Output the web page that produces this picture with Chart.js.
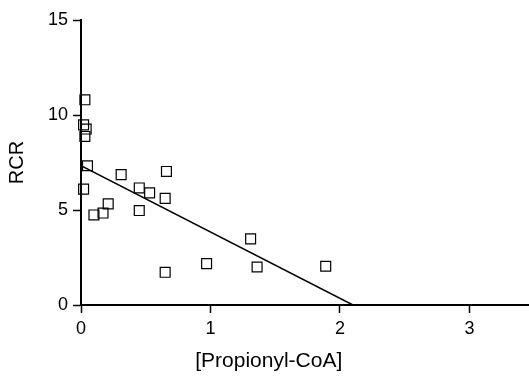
<!DOCTYPE html>
<html>
<head>
<meta charset="utf-8">
<script src="https://cdn.jsdelivr.net/npm/chart.js@4.4.1/dist/chart.umd.min.js"></script>
<style>
  body { margin: 0; background: #fff; }
</style>
</head>
<body>
<canvas id="rcrChart" width="529" height="376"></canvas>
<script>
// measured points: [Propionyl-CoA] vs RCR
const propionylCoA = [0.03, 0.02, 0.04, 0.03, 0.05, 0.02, 0.31, 0.66, 0.45, 0.53, 0.65, 0.21, 0.17, 0.10, 0.45, 1.31, 0.97, 1.36, 1.89, 0.65];
const rcr          = [10.8, 9.48, 9.26, 8.87, 7.33, 6.10, 6.86, 7.03, 6.16, 5.90, 5.61, 5.32, 4.84, 4.74, 4.97, 3.48, 2.18, 2.00, 2.04, 1.72];

// regression line end points
const fitX = [0, 2.10];
const fitY = [7.33, 0];

const xRange = [0, 3.46];
const yRange = [0, 15];

const FONT = '"Liberation Sans", Arial, sans-serif';

// x title sits left of the plot centre in the original
const xTitlePlugin = {
    id: 'xTitle',
    afterDraw(chart) {
        const { ctx, scales: { x } } = chart;
        ctx.save();
        ctx.font = '21px ' + FONT;
        ctx.fillStyle = '#000';
        ctx.textAlign = 'center';
        ctx.textBaseline = 'middle';
        ctx.fillText('[Propionyl-CoA]', x.getPixelForValue(1.45), 361);
        ctx.restore();
    }
};

const ctx = document.getElementById('rcrChart').getContext('2d');
new Chart(ctx, {
    data: {
        datasets: [
            {
                type: 'scatter',
                data: propionylCoA.map((v, i) => ({ x: v, y: rcr[i] })),
                pointStyle: 'rect',
                pointRadius: 7,
                pointBorderWidth: 1.2,
                borderColor: '#000',
                backgroundColor: 'rgba(0,0,0,0)',
                clip: false
            },
            {
                type: 'line',
                data: fitX.map((v, i) => ({ x: v, y: fitY[i] })),
                borderColor: '#000',
                borderWidth: 1.5,
                pointRadius: 0,
                fill: false
            }
        ]
    },
    options: {
        responsive: false,
        animation: false,
        devicePixelRatio: 1,
        layout: { autoPadding: false, padding: { top: 20, right: 0, bottom: 0, left: 0 } },
        plugins: { legend: { display: false }, tooltip: { enabled: false } },
        scales: {
            x: {
                type: 'linear',
                min: xRange[0],
                max: xRange[1],
                afterFit: s => { s.height = 71; s.paddingLeft = 0; s.paddingRight = 0; },
                grid: { drawOnChartArea: false, tickLength: 8, tickColor: '#000', tickWidth: 1.5 },
                border: { color: '#000', width: 2 },
                ticks: {
                    stepSize: 1,
                    includeBounds: false,
                    color: '#000',
                    padding: 5,
                    maxRotation: 0,
                    font: { family: FONT, size: 18 }
                }
            },
            y: {
                type: 'linear',
                min: yRange[0],
                max: yRange[1],
                afterFit: s => { s.width = 81; },
                grid: { drawOnChartArea: false, tickLength: 8, tickColor: '#000', tickWidth: 1.5 },
                border: { color: '#000', width: 2 },
                ticks: {
                    stepSize: 5,
                    color: '#000',
                    padding: 5,
                    font: { family: FONT, size: 18 }
                },
                title: {
                    display: true,
                    text: 'RCR',
                    color: '#000',
                    padding: { top: 5, bottom: 0 },
                    font: { family: FONT, size: 20 }
                }
            }
        }
    },
    plugins: [xTitlePlugin]
});
</script>
</body>
</html>
